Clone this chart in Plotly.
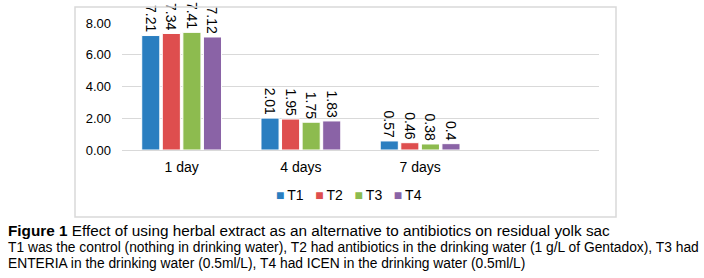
import plotly.graph_objects as go

categories = ["1 day", "4 days", "7 days"]
series_names = ["T1", "T2", "T3", "T4"]
T1 = [7.21, 2.01, 0.57]
T2 = [7.34, 1.95, 0.46]
T3 = [7.41, 1.75, 0.38]
T4 = [7.12, 1.83, 0.40]
labels = {
    "T1": ["7.21", "2.01", "0.57"],
    "T2": ["7.34", "1.95", "0.46"],
    "T3": ["7.41", "1.75", "0.38"],
    "T4": ["7.12", "1.83", "0.4"],
}
colors = ["#2A7EC0", "#DE4E4E", "#8DBB4F", "#8A63A6"]
yticks = [0, 2, 4, 6, 8]

FONT = "Liberation Sans, Arial, sans-serif"
xpos = list(range(len(categories)))

fig = go.Figure()
for name, vals, col in zip(series_names, [T1, T2, T3, T4], colors):
    fig.add_trace(go.Bar(
        x=xpos, y=vals, name=name,
        marker=dict(color=col, line=dict(color="white", width=1)),
        text=labels[name], textposition="outside", textangle=90,
        textfont=dict(family=FONT, size=14, color="black"),
        cliponaxis=False, showlegend=False,
    ))

fig.update_layout(
    width=704, height=278,
    margin=dict(l=122, r=105, t=23, b=128),
    paper_bgcolor="white", plot_bgcolor="white",
    barmode="group", bargap=0.31, bargroupgap=0.12,
    font=dict(family=FONT, size=13, color="black"),
    showlegend=False,
    uniformtext=dict(minsize=14, mode="show"),
    shapes=[dict(type="rect", xref="paper", yref="paper",
                 x0=-47 / 477, x1=494 / 477, y0=-67 / 127, y1=143 / 127,
                 line=dict(color="#d9d9d9", width=1.5), layer="above")],
)
fig.update_xaxes(
    range=[-0.5, 3.5], tickvals=xpos, ticktext=categories,
    showgrid=False, showline=True, linecolor="#d9d9d9", linewidth=1,
    ticks="", tickfont=dict(family=FONT, size=14), zeroline=False,
    ticklabelstandoff=4,
)
fig.update_yaxes(
    range=[0, 8], tickvals=yticks, tickformat=".2f",
    showgrid=True, gridcolor="#d9d9d9", gridwidth=1,
    showline=False, zeroline=False, ticks="",
    tickfont=dict(family=FONT, size=13), ticklabelstandoff=10,
)

# legend built from series names and colours
gap = "\u00a0\u00a0\u00a0"
legend_text = gap.join(
    f"<span style='color:{c}'>■</span>\u2009{n}" for n, c in zip(series_names, colors)
)
fig.add_annotation(text=legend_text, xref="paper", yref="paper", x=0.475, y=-0.354,
                   xanchor="center", yanchor="middle", showarrow=False,
                   font=dict(family=FONT, size=14, color="black"))

caption = [
    "<b>Figure 1</b> Effect of using herbal extract as an alternative to antibiotics on residual yolk sac",
    "T1 was the control (nothing in drinking water), T2 had antibiotics in the drinking water (1 g/L of Gentadox), T3 had",
    "ENTERIA in the drinking water (0.5ml/L), T4 had ICEN in the drinking water (0.5ml/L)",
]
cap_y = [-0.63, -0.764, -0.897]
cap_size = [15.3, 13.8, 13.8]
for txt, yy, sz in zip(caption, cap_y, cap_size):
    fig.add_annotation(text=txt, xref="paper", yref="paper", x=-0.243, y=yy,
                       xanchor="left", yanchor="middle", showarrow=False,
                       font=dict(family=FONT, size=sz, color="black"))

fig.write_html("out.html", config={"displayModeBar": False},
               post_script="document.body.style.margin='0';document.body.style.overflow='hidden';")
